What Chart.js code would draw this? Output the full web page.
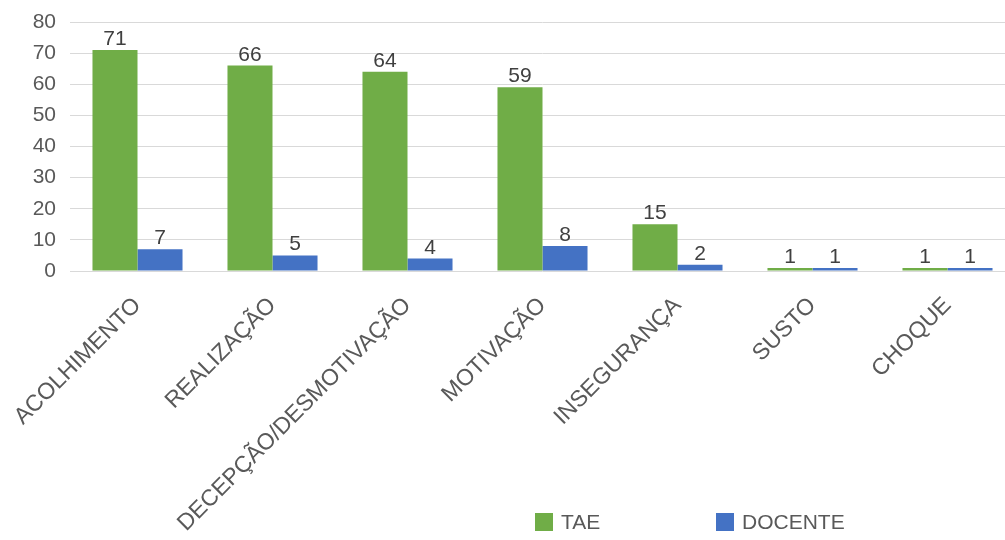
<!DOCTYPE html>
<html>
<head>
<meta charset="utf-8">
<script src="https://cdn.jsdelivr.net/npm/chart.js@4/dist/chart.umd.min.js"></script>
<style>
  html, body { margin: 0; padding: 0; background: #fff; overflow: hidden; }
  #wrap { width: 1016px; height: 540px; }
</style>
</head>
<body>
<div id="wrap"><canvas id="emocoesChart"></canvas></div>
<script>
// categories and counts per group
const categorias = ['ACOLHIMENTO', 'REALIZAÇÃO', 'DECEPÇÃO/DESMOTIVAÇÃO', 'MOTIVAÇÃO', 'INSEGURANÇA', 'SUSTO', 'CHOQUE'];
const tae = [71, 66, 64, 59, 15, 1, 1];
const docente = [7, 5, 4, 8, 2, 1, 1];
const yTicks = [0, 10, 20, 30, 40, 50, 60, 70, 80];

const FONT = "'Liberation Sans', Arial, sans-serif";
const GREEN = '#70AD47';
const BLUE = '#4472C4';

// value labels above every bar
const valueLabels = {
    id: 'valueLabels',
    afterDatasetsDraw(chart) {
        const ctx = chart.ctx;
        ctx.save();
        ctx.font = '21px ' + FONT;
        ctx.fillStyle = '#404040';
        ctx.textAlign = 'center';
        ctx.textBaseline = 'alphabetic';
        chart.data.datasets.forEach((ds, i) => {
            chart.getDatasetMeta(i).data.forEach((bar, j) => {
                ctx.fillText(String(ds.data[j]), bar.x, bar.y - 5);
            });
        });
        ctx.restore();
    }
};

// legend along the bottom
const bottomLegend = {
    id: 'bottomLegend',
    afterDraw(chart) {
        const ctx = chart.ctx;
        const startX = [535, 716];
        ctx.save();
        ctx.font = '21px ' + FONT;
        ctx.textBaseline = 'middle';
        ctx.textAlign = 'left';
        chart.data.datasets.forEach((ds, i) => {
            ctx.fillStyle = ds.backgroundColor;
            ctx.fillRect(startX[i], 513, 18, 18);
            ctx.fillStyle = '#595959';
            ctx.fillText(ds.label, startX[i] + 26, 523);
        });
        ctx.restore();
    }
};

const chart = new Chart(document.getElementById('emocoesChart').getContext('2d'), {
    type: 'bar',
    data: {
        labels: categorias,
        datasets: [
            { label: 'TAE', data: tae, backgroundColor: GREEN },
            { label: 'DOCENTE', data: docente, backgroundColor: BLUE }
        ]
    },
    options: {
        responsive: true,
        maintainAspectRatio: false,
        animation: false,
        layout: { padding: { top: 22, right: 1, left: 0, bottom: 0 } },
        datasets: { bar: { categoryPercentage: 0.667, barPercentage: 1.0 } },
        plugins: {
            legend: { display: false },
            tooltip: { enabled: false }
        },
        scales: {
            x: {
                grid: { display: false, drawTicks: false },
                border: { display: false },
                ticks: {
                    autoSkip: false,
                    minRotation: 45,
                    maxRotation: 45,
                    padding: 21,
                    color: '#595959',
                    font: { family: FONT, size: 23 }
                },
                afterFit(scale) {
                    // rotated labels may spill into the y-axis area; keep the plot where it is
                    scale.height = 269;
                    scale.paddingLeft = 0;
                    scale.paddingRight = 0;
                }
            },
            y: {
                min: 0,
                max: 80,
                afterBuildTicks(scale) { scale.ticks = yTicks.map(v => ({ value: v })); },
                grid: { color: '#D9D9D9', lineWidth: 1, drawTicks: false },
                border: { display: false },
                ticks: {
                    padding: 14,
                    color: '#595959',
                    font: { family: FONT, size: 21 }
                },
                afterFit(scale) {
                    scale.width = 70;
                    scale.paddingTop = 0;
                    scale.paddingBottom = 0;
                }
            }
        }
    },
    plugins: [valueLabels, bottomLegend]
});
</script>
</body>
</html>
